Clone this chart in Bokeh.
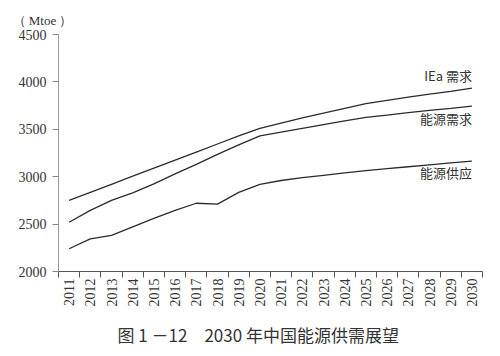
import math
from bokeh.plotting import figure
from bokeh.models import Range1d, FixedTicker, Label, Title
from bokeh.core.properties import value
from bokeh.embed import file_html
from bokeh.resources import INLINE

years = list(range(2011, 2031))
year_labels = [str(y) for y in years]
iea_demand = [2750, 2835, 2920, 3005, 3090, 3175, 3260, 3345, 3430, 3510,
              3565, 3620, 3670, 3720, 3770, 3805, 3840, 3870, 3900, 3935]
energy_demand = [2520, 2645, 2750, 2830, 2925, 3030, 3130, 3235, 3335, 3430,
                 3470, 3510, 3550, 3590, 3625, 3650, 3675, 3700, 3720, 3745]
energy_supply = [2240, 2345, 2380, 2470, 2560, 2645, 2720, 2710, 2835, 2920,
                 2960, 2990, 3015, 3040, 3065, 3085, 3105, 3125, 3145, 3165]
y_ticks = [2000, 2500, 3000, 3500, 4000, 4500]
series_names = ["IEa 需求", "能源需求", "能源供应"]
unit_label = "（ Mtoe ）"
caption = "图 1 －12　2030 年中国能源供需展望"

LINE = "#2b2b2b"
TXT = "#333333"
SERIF = "Liberation Serif"
CJK = "Noto Sans CJK SC"

p = figure(width=500, height=356, output_backend="svg", toolbar_location=None,
           x_range=Range1d(years[0] - 0.5, years[-1] + 0.5),
           y_range=Range1d(y_ticks[0], y_ticks[-1]),
           min_border_left=58, min_border_right=18, min_border_top=34, min_border_bottom=85)
p.outline_line_color = None
p.grid.visible = False
p.background_fill_color = "white"
p.border_fill_color = "white"

for vals in (iea_demand, energy_demand, energy_supply):
    p.line(years, vals, line_color=LINE, line_width=1.3)

# x axis: labels at centres, ticks at boundaries
xa = p.xaxis[0]
xa.ticker = FixedTicker(ticks=years, minor_ticks=[y - 0.5 for y in years] + [years[-1] + 0.5])
xa.major_label_overrides = {y: s for y, s in zip(years, year_labels)}
xa.major_label_orientation = math.pi / 2
xa.major_tick_out = 0
xa.major_tick_in = 0
xa.minor_tick_out = 6
xa.minor_tick_in = 0
xa.minor_tick_line_color = "#555555"
xa.axis_line_color = "#555555"
xa.major_label_standoff = 1
xa.major_label_text_font = SERIF
xa.major_label_text_font_size = "14px"
xa.major_label_text_color = TXT

ya = p.yaxis[0]
ya.ticker = FixedTicker(ticks=y_ticks, minor_ticks=[])
ya.major_tick_out = 6
ya.major_tick_in = 0
ya.major_tick_line_color = "#888888"
ya.axis_line_color = "#999999"
ya.major_label_standoff = 6
ya.major_label_text_font = SERIF
ya.major_label_text_font_size = "14px"
ya.major_label_text_color = TXT

# series labels at line ends
label_y = [4070, 3610, 3040]
for name, yv in zip(series_names, label_y):
    p.add_layout(Label(x=years[-1], y=yv, text=name, text_align="right",
                       text_baseline="middle", text_font=CJK,
                       text_font_size="13px", text_color=TXT))

p.add_layout(Title(text=unit_label, align="left", offset=-46, standoff=14,
                   text_font=SERIF, text_font_size="13px", text_color=TXT,
                   text_font_style="normal"), "above")

p.add_layout(Title(text=caption, align="left", standoff=20, offset=59,
                   text_font=CJK, text_font_size="17px", text_color=TXT,
                   text_font_style="normal"), "below")

open("out.html", "w").write(file_html(p, INLINE))
